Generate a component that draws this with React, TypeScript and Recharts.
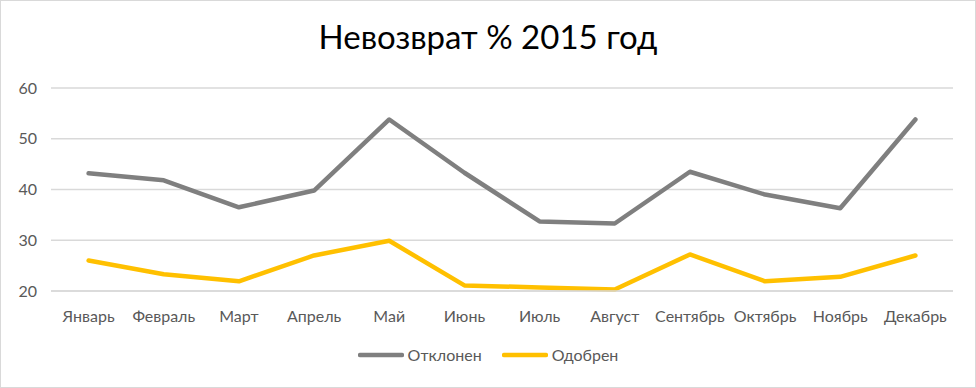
import { LineChart, Line, XAxis, YAxis, CartesianGrid, Legend } from 'recharts';

const months = ['Январь', 'Февраль', 'Март', 'Апрель', 'Май', 'Июнь', 'Июль', 'Август', 'Сентябрь', 'Октябрь', 'Ноябрь', 'Декабрь'];
const rejected = [43.2, 41.8, 36.5, 39.8, 53.8, 43.3, 33.7, 33.3, 43.5, 39.0, 36.3, 53.8];
const approved = [26.0, 23.3, 21.9, 27.0, 29.9, 21.1, 20.7, 20.3, 27.2, 21.9, 22.8, 27.0];
const yTicks = [20, 30, 40, 50, 60];

const seriesNames = { rejected: 'Отклонен', approved: 'Одобрен' };
const colors = { rejected: '#7f7f7f', approved: '#ffc000' };

const FONT = 'Lato, "Open Sans", sans-serif';
const TEXT = '#595959';

const data = months.map((m, i) => ({ month: m, rejected: rejected[i], approved: approved[i] }));

function LegendContent() {
  const items = [
    { key: 'rejected', label: seriesNames.rejected, color: colors.rejected },
    { key: 'approved', label: seriesNames.approved, color: colors.approved },
  ];
  return (
    <div style={{ display: 'flex', justifyContent: 'center', gap: 20, fontFamily: FONT, fontSize: 16, color: TEXT }}>
      {items.map((it) => (
        <div key={it.key} style={{ display: 'flex', alignItems: 'center', gap: 4 }}>
          <svg width={46} height={8}>
            <line x1={2} y1={4} x2={44} y2={4} stroke={it.color} strokeWidth={4.5} strokeLinecap="round" />
          </svg>
          <span>{it.label}</span>
        </div>
      ))}
    </div>
  );
}

export default function App() {
  return (
    <div
      style={{
        position: 'absolute',
        left: 0,
        top: 0,
        width: 976,
        height: 388,
        boxSizing: 'border-box',
        border: '1px solid #d9d9d9',
        background: '#fff',
      }}
    >
      <div
        style={{
          position: 'absolute',
          left: 0,
          right: 0,
          top: 15,
          textAlign: 'center',
          fontFamily: FONT,
          fontSize: 33,
          color: '#000',
        }}
      >
        Невозврат % 2015 год
      </div>
      <div style={{ position: 'absolute', left: -1, top: -1 }}>
        <LineChart width={976} height={388} data={data} margin={{ top: 88, right: 23, bottom: 67, left: 0 }}>
          <CartesianGrid vertical={false} stroke="#d9d9d9" strokeWidth={1.3} />
          <XAxis
            dataKey="month"
            axisLine={{ stroke: '#d9d9d9', strokeWidth: 1.3 }}
            tickLine={false}
            height={30}
            tickMargin={14}
            interval={0}
            padding={{ left: 37.6, right: 37.6 }}
            tick={{ fill: TEXT, fontSize: 16, fontFamily: FONT }}
          />
          <YAxis
            domain={[20, 60]}
            ticks={yTicks}
            width={51}
            axisLine={false}
            tickLine={false}
            tickMargin={8}
            tick={{ fill: TEXT, fontSize: 16, fontFamily: FONT }}
          />
          <Legend
            layout="horizontal"
            verticalAlign="middle"
            align="center"
            content={<LegendContent />}
            wrapperStyle={{ top: 345, left: 0, width: 976 }}
          />
          <Line
            dataKey="rejected"
            name={seriesNames.rejected}
            stroke={colors.rejected}
            strokeWidth={4.5}
            strokeLinejoin="round"
            strokeLinecap="round"
            dot={false}
            isAnimationActive={false}
          />
          <Line
            dataKey="approved"
            name={seriesNames.approved}
            stroke={colors.approved}
            strokeWidth={4.5}
            strokeLinejoin="round"
            strokeLinecap="round"
            dot={false}
            isAnimationActive={false}
          />
        </LineChart>
      </div>
    </div>
  );
}
